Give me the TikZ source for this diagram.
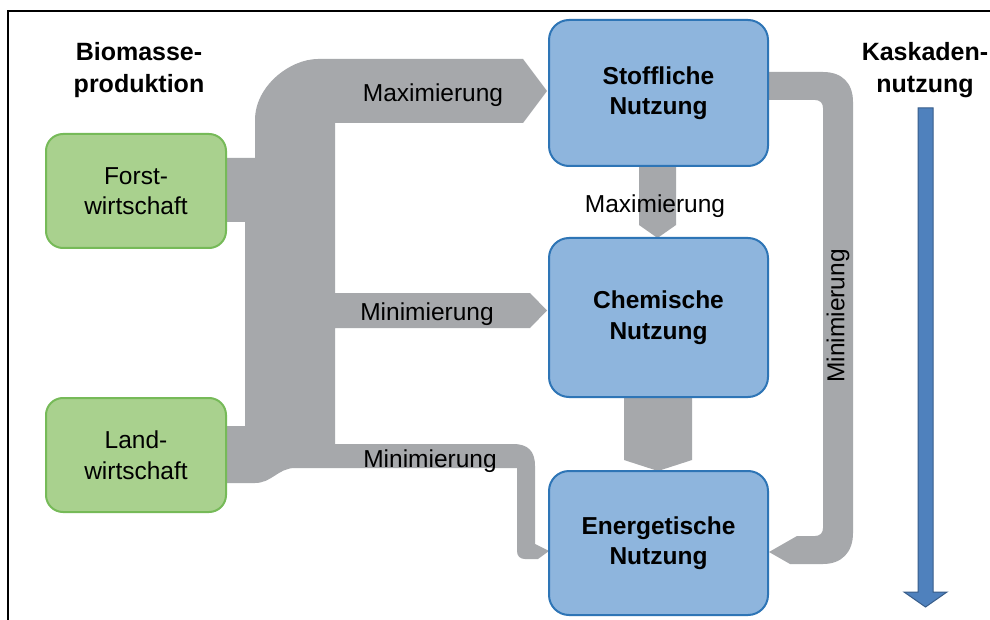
\documentclass[tikz,border=0pt]{standalone}
\usepackage{fontspec}
\setmainfont{Liberation Sans}
\definecolor{flowgray}{RGB}{166,168,171}
\definecolor{greenfill}{RGB}{169,209,142}
\definecolor{greenline}{RGB}{118,186,88}
\definecolor{bluefill}{RGB}{142,181,221}
\definecolor{blueline}{RGB}{46,117,182}
\definecolor{arrowblue}{RGB}{79,129,189}
\definecolor{arrowblueline}{RGB}{56,93,138}
\begin{document}
\begin{tikzpicture}[x=1pt,y=-1pt,
  every node/.style={font=\fontsize{24.5}{30.5}\selectfont, inner sep=0pt},
  greenbox/.style={draw=greenline, line width=2pt, fill=greenfill, rounded corners=17pt,
    minimum width=180pt, minimum height=114pt, align=center},
  bluebox/.style={draw=blueline, line width=2pt, fill=bluefill, rounded corners=20pt,
    minimum width=219pt, align=center, font=\fontsize{24.5}{30.5}\selectfont\bfseries},
  flow/.style={fill=flowgray, draw=none},
  lbl/.style={anchor=base},
  headlbl/.style={align=center, font=\fontsize{25}{32}\selectfont\bfseries}
]
\useasboundingbox (0,0) rectangle (990,620);
\fill[white] (0,0) rectangle (990,620);
% frame
\draw[line width=2.5pt] (8,620) -- (8,11) -- (990,11);

% gray flows from production to uses
\fill[flow] (226,158) -- (255,158) -- (255,120) .. controls (255,86) and (290,59) .. (318,59)
  -- (523,59) -- (547,91) -- (523,123) -- (335,123) -- (335,293) -- (530,293) -- (547,310.5)
  -- (530,328) -- (335,328) -- (335,444) -- (513,444) .. controls (528,444) and (535,451) .. (535,466)
  -- (535,544) -- (549,551) -- (538,559) -- (525,559) .. controls (520,559) and (517,556) .. (517,551)
  -- (517,468) -- (295,468) .. controls (278,468) and (272,483) .. (255,483) -- (226,483)
  -- (226,426) -- (245,426) -- (245,222) -- (226,222) -- cycle;
% cascade flows
\fill[flow] (639,166) -- (676,166) -- (676,225) -- (657.5,238) -- (639,225) -- cycle;
\fill[flow] (624,397) -- (692,397) -- (692,460) -- (658,471) -- (624,460) -- cycle;
% return flow
\fill[flow] (768,72) -- (823,72) .. controls (842,72) and (853,83) .. (853,102) -- (853,533)
  .. controls (853,552) and (842,564) .. (823,564) -- (790,564) -- (769,552) -- (797,536) -- (815,536)
  .. controls (820,536) and (823,533) .. (823,528) -- (823,108) .. controls (823,103) and (820,100) .. (815,100)
  -- (768,100) -- cycle;

% boxes
\node[greenbox] (forst) at (136,191) {Forst-\\wirtschaft};
\node[greenbox] (land) at (136,455) {Land-\\wirtschaft};
\node[bluebox, minimum height=146pt] (stoff) at (658.5,93) {Stoffliche\\Nutzung};
\node[bluebox, minimum height=159pt] (chem) at (658.5,317.5) {Chemische\\Nutzung};
\node[bluebox, minimum height=144pt] (ener) at (658.5,543) {Energetische\\Nutzung};

% headings
\node[headlbl] (bio) at (139,70) {Biomasse-\\produktion};
\node[headlbl] (kas) at (925,70) {Kaskaden-\\nutzung};

% flow labels
\node[lbl] (l1) at (433,102) {Maximierung};
\node[lbl] (l2) at (427,320) {Minimierung};
\node[lbl] (l3) at (430,467) {Minimierung};
\node[lbl] (l4) at (655,213) {Maximierung};
\node[rotate=90] (l5) at (838,316) {Minimierung};

% cascade arrow
\draw[draw=arrowblueline, fill=arrowblue, line width=1pt] (918,108) -- (933,108) -- (933,592)
  -- (947,592) -- (925.5,607) -- (904,592) -- (918,592) -- cycle;
\end{tikzpicture}
\end{document}
